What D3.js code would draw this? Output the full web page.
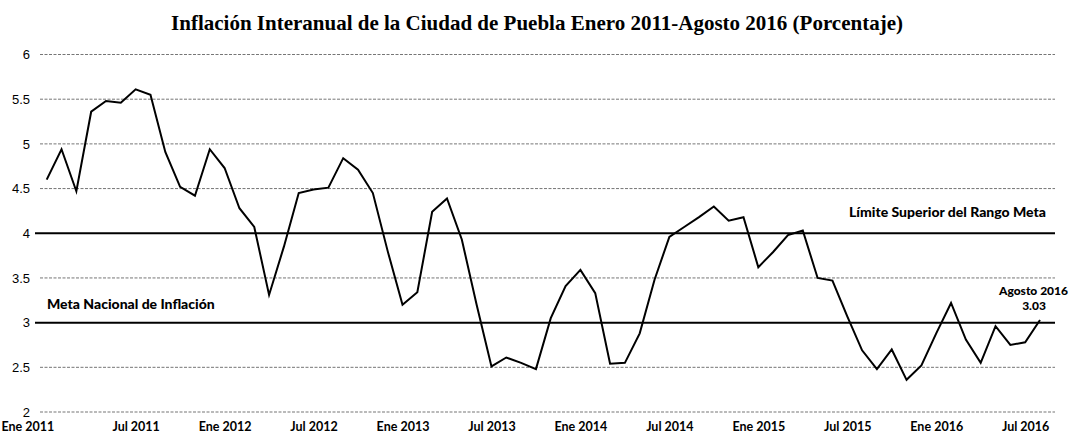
<!DOCTYPE html>
<html>
<head>
<meta charset="utf-8">
<script src="https://cdn.jsdelivr.net/npm/d3@7"></script>
<style>
  body { margin: 0; background: white; }
</style>
</head>
<body>
<div id="canvas"></div>
<script>
"use strict"

// chart values
let years = [2011, 2012, 2013, 2014, 2015, 2016];
let monthNames = ["Ene", "Feb", "Mar", "Abr", "May", "Jun", "Jul", "Ago", "Sep", "Oct", "Nov", "Dic"];
let inflation = [
    4.60, 4.94, 4.47, 5.36, 5.48, 5.46, 5.61, 5.55, 4.91, 4.52, 4.42, 4.94,
    4.73, 4.28, 4.07, 3.31, 3.85, 4.45, 4.49, 4.51, 4.84, 4.71, 4.45, 3.80,
    3.20, 3.34, 4.24, 4.39, 3.93, 3.20, 2.51, 2.61, 2.55, 2.48, 3.05, 3.41,
    3.59, 3.33, 2.54, 2.55, 2.88, 3.48, 3.96, 4.07, 4.18, 4.30, 4.14, 4.18,
    3.62, 3.79, 3.98, 4.03, 3.50, 3.47, 3.07, 2.69, 2.48, 2.70, 2.36, 2.52,
    2.88, 3.22, 2.81, 2.55, 2.96, 2.75, 2.78, 3.03
];
let tickLabels = ["Ene 2011", "Jul 2011", "Ene 2012", "Jul 2012", "Ene 2013", "Jul 2013",
                  "Ene 2014", "Jul 2014", "Ene 2015", "Jul 2015", "Ene 2016", "Jul 2016"];
let yTicks = [2, 2.5, 3, 3.5, 4, 4.5, 5, 5.5, 6];
let refLines = [3, 4];
let lastLabel = ["Agosto 2016", "3.03"];

// month categories: "Ene 2011" ... "Ago 2016"
let months = [];
years.forEach(y => monthNames.forEach(m => months.push(m + " " + y)));
months = months.slice(0, inflation.length);

let drawingWidth = 1070;
let drawingHeight = 438;
let labelFont = "Lato, 'DejaVu Sans', sans-serif";

let drawing = d3.select("#canvas")
    .append("svg")
    .attr("width", drawingWidth)
    .attr("height", drawingHeight);

drawing.append("rect")
    .attr("width", drawingWidth)
    .attr("height", drawingHeight)
    .attr("fill", "white");

let x = d3.scalePoint()
    .domain(months)
    .range([46.7, 1040]);

let y = d3.scaleLinear()
    .domain([2, 6])
    .range([412, 54.5]);

/* title */
drawing.append("text")
    .attr("x", 537)
    .attr("y", 30)
    .attr("text-anchor", "middle")
    .attr("font-family", "'Liberation Serif', 'Times New Roman', serif")
    .attr("font-weight", "bold")
    .attr("font-size", 21)
    .text("Inflación Interanual de la Ciudad de Puebla Enero 2011-Agosto 2016 (Porcentaje)");

/* dotted grid lines */
drawing.selectAll(".grid")
    .data(yTicks.filter(t => !refLines.includes(t)))
    .enter()
    .append("line")
    .attr("class", "grid")
    .attr("x1", 40)
    .attr("x2", 1055)
    .attr("y1", d => y(d))
    .attr("y2", d => y(d))
    .attr("stroke", "#555")
    .attr("stroke-width", 1)
    .attr("stroke-dasharray", "3,1.5")
    .attr("opacity", 0.8);

/* goal lines at 3 and 4 */
drawing.selectAll(".ref")
    .data(refLines)
    .enter()
    .append("line")
    .attr("class", "ref")
    .attr("x1", 35)
    .attr("x2", 1055)
    .attr("y1", d => y(d))
    .attr("y2", d => y(d))
    .attr("stroke", "black")
    .attr("stroke-width", 2);

/* y axis labels */
let yAxis = drawing.append("g")
    .attr("transform", "translate(30,0)")
    .call(d3.axisLeft(y).tickValues(yTicks).tickSize(0).tickPadding(0).tickFormat(d3.format("")));
yAxis.select(".domain").remove();
yAxis.selectAll("text")
    .attr("font-family", "'Liberation Sans', Arial, sans-serif")
    .attr("font-size", 13)
    .attr("fill", "black");

/* x axis labels, every six months */
let xAxis = drawing.append("g")
    .attr("transform", "translate(0,412)")
    .call(d3.axisBottom(x).tickValues(months.filter((m, i) => i % 6 == 0)).tickSize(0).tickPadding(10)
        .tickFormat((m, i) => tickLabels[i]));
xAxis.select(".domain").remove();
xAxis.selectAll("text")
    .attr("font-family", labelFont)
    .attr("font-weight", "bold")
    .attr("font-size", 12.5)
    .attr("fill", "black");
// first label sits against the left edge
xAxis.select(".tick text")
    .attr("text-anchor", "start")
    .attr("x", 1 - x(months[0]));

/* inflation line */
let line = d3.line()
    .x((d, i) => x(months[i]))
    .y(d => y(d));

drawing.append("path")
    .datum(inflation)
    .attr("d", line)
    .attr("fill", "none")
    .attr("stroke", "black")
    .attr("stroke-width", 2)
    .attr("stroke-linejoin", "miter");

/* annotations */
drawing.append("text")
    .attr("x", 1046)
    .attr("y", y(4) - 16)
    .attr("text-anchor", "end")
    .attr("font-family", labelFont)
    .attr("font-weight", "900")
    .attr("font-size", 14)
    .text("Límite Superior del Rango Meta");

drawing.append("text")
    .attr("x", 47)
    .attr("y", y(3) - 14)
    .attr("font-family", labelFont)
    .attr("font-weight", "900")
    .attr("font-size", 14)
    .text("Meta Nacional de Inflación");

let lastX = x(months[months.length - 1]);
let lastY = y(inflation[inflation.length - 1]);

drawing.append("text")
    .attr("x", 1068)
    .attr("y", lastY - 25)
    .attr("text-anchor", "end")
    .attr("font-family", labelFont)
    .attr("font-weight", "900")
    .attr("font-size", 12)
    .text(lastLabel[0]);

drawing.append("text")
    .attr("x", lastX - 6)
    .attr("y", lastY - 10)
    .attr("text-anchor", "middle")
    .attr("font-family", labelFont)
    .attr("font-weight", "900")
    .attr("font-size", 12)
    .text(lastLabel[1]);
</script>
</body>
</html>
